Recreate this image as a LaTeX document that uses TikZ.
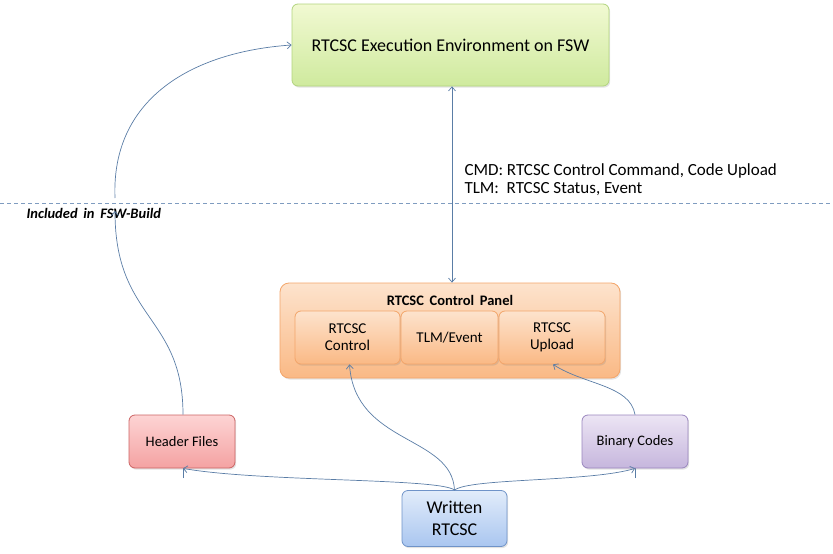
\documentclass[tikz,border=0pt]{standalone}
\usepackage{fontspec}
\setmainfont{Carlito}
\usetikzlibrary{arrows.meta,shadows,calc}
\definecolor{lnc}{HTML}{5A7DA6}
\definecolor{dsh}{HTML}{7F9CC0}
\tikzset{
  box/.style={draw, rounded corners=6pt, line width=0.8pt, align=center, inner sep=2pt,
    drop shadow={opacity=0.22, shadow xshift=1.2pt, shadow yshift=-1.6pt}},
  conn/.style={draw=lnc, line width=0.7pt, -{Straight Barb[length=4pt,width=7pt]}},
}
\definecolor{topT}{HTML}{F1F9D2}\definecolor{topB}{HTML}{CFEA9E}\definecolor{topD}{HTML}{B2D47E}
\definecolor{orT}{HTML}{FDE3CD}\definecolor{orB}{HTML}{FAB985}\definecolor{orD}{HTML}{F3A56A}
\definecolor{rdT}{HTML}{FDD4D4}\definecolor{rdB}{HTML}{F4A2A2}\definecolor{rdD}{HTML}{CC6464}
\definecolor{puT}{HTML}{ECE5F4}\definecolor{puB}{HTML}{C6B6DD}\definecolor{puD}{HTML}{9A86BE}
\definecolor{blT}{HTML}{E2ECFA}\definecolor{blB}{HTML}{A9C6F0}\definecolor{blD}{HTML}{6F93C8}
\begin{document}
\begin{tikzpicture}[x=1pt,y=-1pt]
\useasboundingbox (0,0) rectangle (833,554);
% dashed separator
\draw[dsh, line width=0.7pt, dash pattern=on 4pt off 3pt] (0,203) -- (833,203);
\coordinate (incA) at (115,211);
\coordinate (incB) at (115,198);
\node[font=\bfseries\itshape\fontsize{14.5}{16}\selectfont, anchor=west] (inc) at (23,213) {Included\, in\, FSW-Build};
% hidden tail segments under boxes
\draw[lnc, line width=0.7pt] (183,478) -- (183,420);
\draw[lnc, line width=0.7pt] (635,478) -- (635,420);
% boxes
\node[box, draw=topD, top color=topT, bottom color=topB, minimum width=317pt, minimum height=82pt,
  font=\fontsize{18}{20}\selectfont] (top) at (450.5,45) {RTCSC Execution Environment on FSW};
\node[box, draw=orD, top color=orT, bottom color=orB, rounded corners=9pt, minimum width=340pt, minimum height=95pt] (panel) at (450,330.5) {};
\node[font=\bfseries\fontsize{14.5}{16}\selectfont] (ptitle) at (450,300) {RTCSC\, Control\, Panel};
\tikzset{sub/.style={box, draw=orD, top color=orT, bottom color=orB, minimum height=53pt,
  font=\fontsize{15}{17}\selectfont}}
\node[sub, minimum width=105pt] (c1) at (347.5,337.5) {RTCSC\\Control};
\node[sub, minimum width=97pt] (c2) at (449.5,337.5) {TLM/Event};
\node[sub, minimum width=106pt] (c3) at (552,337.5) {RTCSC\\Upload};
\node[box, draw=rdD, top color=rdT, bottom color=rdB, minimum width=106pt, minimum height=53pt,
  font=\fontsize{14.5}{17}\selectfont] (hdr) at (182,441.5) {Header Files};
\node[box, draw=puD, top color=puT, bottom color=puB, minimum width=106pt, minimum height=53pt,
  font=\fontsize{14.5}{17}\selectfont] (bin) at (635,441.5) {Binary Codes};
\node[box, draw=blD, top color=blT, bottom color=blB, minimum width=105pt, minimum height=56pt,
  font=\fontsize{18}{22}\selectfont] (wr) at (454.5,518.5) {Written\\RTCSC};
% connectors
\draw[lnc, line width=0.7pt, {Straight Barb[length=4pt,width=7pt]}-{Straight Barb[length=4pt,width=7pt]}]
  ($(top.south)+(1.5,0)$) -- ($(panel.north)+(2,0)$);
\node[anchor=west, align=left, font=\fontsize{17}{18}\selectfont] (lbl) at (461,180)
  {CMD: RTCSC Control Command, Code Upload\\TLM:\hspace{0.45em}RTCSC Status, Event};
\draw[conn] (hdr.north) ++(1,0) .. controls (183,315) and (115,320) .. (incA);
\draw[conn] (incB) .. controls (111,100) and (190,52) .. (top.west);
\draw[conn] (wr.north) .. controls (440,478) and (260,482) .. ($(hdr.south)+(1,0)$);
\draw[conn] (wr.north) .. controls (470,478) and (590,482) .. (bin.south);
\draw[conn] (wr.north) .. controls (452,435) and (355,445) .. ($(c1.south)+(2,0)$);
\draw[conn] (bin.north) .. controls (630,385) and (585,385) .. ($(c3.south)+(1,0)$);
\end{tikzpicture}
\end{document}
